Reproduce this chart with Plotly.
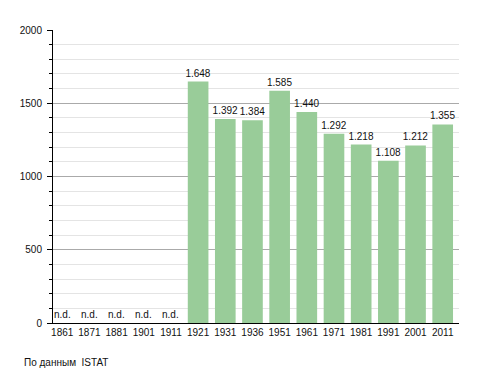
import plotly.graph_objects as go

years = ["1861", "1871", "1881", "1901", "1911", "1921", "1931", "1936",
         "1951", "1961", "1971", "1981", "1991", "2001", "2011"]
population = [None, None, None, None, None, 1648, 1392, 1384,
              1585, 1440, 1292, 1218, 1108, 1212, 1355]
y_ticks = [0, 500, 1000, 1500, 2000]
source_note = "По данным  ISTAT"

idx = list(range(len(years)))
vals = [v if v is not None else 0 for v in population]
labels = [f"{v:,}".replace(",", ".") if v is not None else "" for v in population]
nd_x = [i for i, v in zip(idx, population) if v is None]

font = "Liberation Sans, Arial, sans-serif"
FS = 10

# page body has an 8px default margin; figure sized to fill the rest
W, H = 480, 365
ML, MR, MT, MB = 43, 29, 22, 50

fig = go.Figure()
fig.add_trace(go.Bar(
    x=idx, y=vals, width=0.76,
    marker=dict(color="#99cc99", line=dict(width=0)),
    text=labels, textposition="outside", cliponaxis=False,
    constraintext="none",
    textfont=dict(family=font, size=FS, color="#111"),
    hoverinfo="skip",
))

for i in nd_x:
    fig.add_annotation(
        x=i, y=0, xref="x", yref="y", text="n.d.", showarrow=False,
        yanchor="bottom", xanchor="center", yshift=1,
        font=dict(family=font, size=FS, color="#111"),
    )

fig.update_layout(
    width=W, height=H,
    margin=dict(l=ML, r=MR, t=MT, b=MB),
    paper_bgcolor="white", plot_bgcolor="white",
    showlegend=False,
    font=dict(family=font, size=FS, color="#111"),
    xaxis=dict(
        range=[-0.34, 14.6], tickmode="array", tickvals=idx, ticktext=years,
        showgrid=False, zeroline=False, showline=True, linecolor="black",
        linewidth=1, ticks="", tickfont=dict(size=FS), fixedrange=True,
    ),
    yaxis=dict(
        range=[0, 2000], tickmode="array", tickvals=y_ticks,
        showgrid=True, gridcolor="#aaaaaa", gridwidth=1,
        zeroline=False, showline=True, linecolor="black", linewidth=1,
        ticks="outside", ticklen=5, tickcolor="black", tickwidth=1,
        ticklabelstandoff=3,
        tickfont=dict(size=FS),
        minor=dict(dtick=100, showgrid=True, gridcolor="#e4e4e4",
                   ticks="outside", ticklen=3, tickcolor="black"),
        fixedrange=True,
    ),
)
# source note placed at page pixel (20, 362)
fig.add_annotation(
    text=source_note, showarrow=False, xanchor="left", yanchor="middle",
    xref="paper", yref="paper",
    x=(20 - 8 - ML) / (W - ML - MR),
    y=(H - MB - (362 - 8)) / (H - MT - MB),
    font=dict(family=font, size=FS, color="#111"),
)

fig.write_html("out.html")
